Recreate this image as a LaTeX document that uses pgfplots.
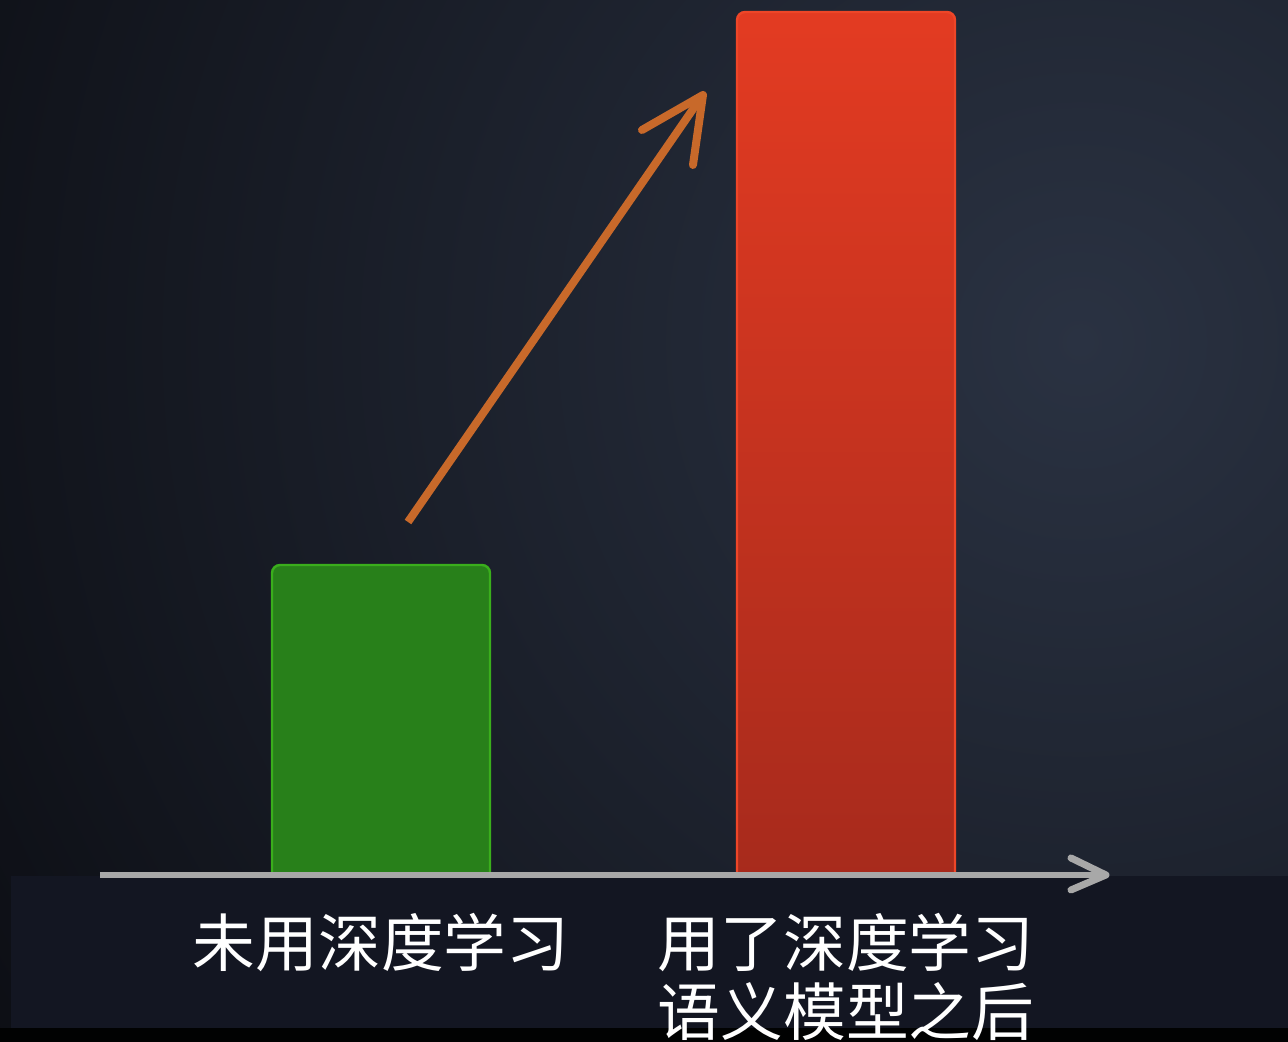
\documentclass[border=0pt]{standalone}
\usepackage{pgfplots}
\pgfplotsset{compat=1.18}
\usepackage{fontspec}
\newfontfamily\cjk{Noto Sans CJK SC}
\definecolor{bgin}{HTML}{2A3242}
\definecolor{bgout}{HTML}{090A0F}
\definecolor{band}{HTML}{131622}
\definecolor{gfill}{HTML}{28801A}
\definecolor{gedge}{HTML}{3AAE1C}
\definecolor{rtop}{HTML}{E33B22}
\definecolor{rbot}{HTML}{A62A1C}
\definecolor{redge}{HTML}{EE4628}
\definecolor{axgray}{HTML}{A8A8A8}
\definecolor{arr}{HTML}{C8692A}
\begin{document}
\begin{tikzpicture}
\useasboundingbox (0,0) rectangle (644bp,521bp);
\begin{scope}
\clip (0,0) rectangle (644bp,521bp);
\fill[bgout] (0,0) rectangle (644bp,521bp);
\fill[inner color=bgin, outer color=bgout] (540bp,350bp) circle (720bp);
\end{scope}
% bottom band
\begin{scope}[shift={(0bp,521bp)}, x=0.5bp, y=-0.5bp]
\fill[black!85!bgout] (0,1028) rectangle (1288,1042);
\fill[band] (11,876) rectangle (1288,1028);
\end{scope}
\begin{axis}[
  at={(50bp,75bp)}, anchor=south west,
  scale only axis, width=504bp, height=450bp,
  xmin=-0.6043, xmax=1.5634, ymin=0, ymax=900,
  clip=false,
  axis line style={draw=none},
  major tick length=0pt,
  ytick=\empty,
  xtick={0,1},
  xticklabels={未用深度学习,{用了深度学习\\语义模型之后}},
  xticklabel style={font=\cjk\fontsize{31.5}{34.5}\selectfont, text=white, align=center, inner sep=0pt, yshift=-10.5bp},
]
\clip (axis cs:-0.7,20) rectangle (axis cs:1.7,905);
\addplot[ybar, bar width=0.4688, bar shift=0pt, fill=gfill, draw=gedge, line width=1.2bp, rounded corners=4bp]
  coordinates {(0,327)};
\addplot[ybar, bar width=0.4688, bar shift=0pt, top color=rtop, bottom color=rbot, draw=redge, line width=1.2bp, rounded corners=4bp]
  coordinates {(1,880)};
\end{axis}
\begin{scope}[shift={(0bp,521bp)}, x=0.5bp, y=-0.5bp]
% x axis line with chevron
\draw[axgray, line width=3bp] (100,875) -- (1104,875);
\draw[axgray, line width=3.5bp, line cap=round, line join=round] (1071,858) -- (1106,875) -- (1071,890);
% orange arrow
\draw[arr, line width=4bp] (408,522) -- (700,99);
\draw[arr, line width=4bp, line cap=round, line join=round] (642,130) -- (703,95) -- (693,165);
\end{scope}
\end{tikzpicture}
\end{document}
